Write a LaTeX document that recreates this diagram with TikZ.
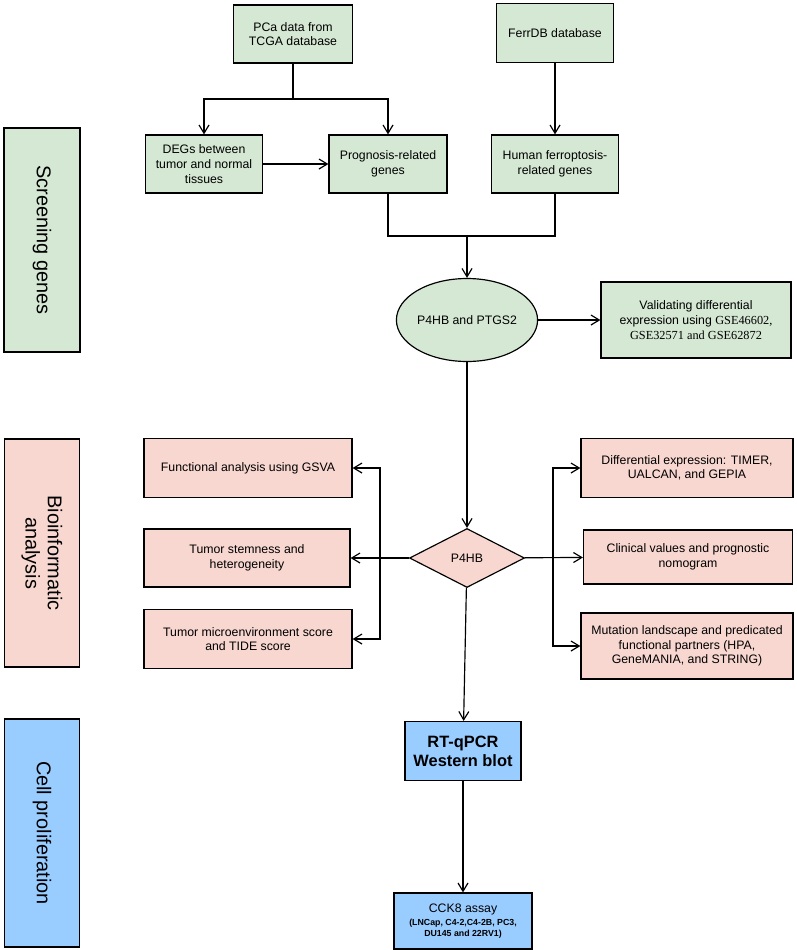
\documentclass[tikz,border=0pt]{standalone}
\usepackage{fontspec}
\setmainfont{Liberation Sans}
\newfontfamily\timesfont{Liberation Serif}
\usetikzlibrary{shapes.geometric,arrows.meta,positioning}
\definecolor{scrgreen}{HTML}{D5E8D4}
\definecolor{biopink}{HTML}{F8D7D0}
\definecolor{cellblue}{HTML}{99CCFF}
\begin{document}
\begin{tikzpicture}[x=0.3mm,y=-0.3mm]
    \tikzstyle{box} = [rectangle, draw, line width=1pt, align=center,
               inner sep=2pt, font=\fontsize{10.5}{12.5}\selectfont]
    \tikzstyle{stage} = [rectangle, draw, line width=1pt, align=center,
               font=\fontsize{17}{19}\selectfont]
    \tikzstyle{line} = [draw, line width=1pt, -{Straight Barb[length=2.5mm,width=3mm]}]

    \useasboundingbox (0,0) rectangle (797,950);

    % Stage labels
    \node[stage, fill=scrgreen, minimum width=76*0.3mm, minimum height=224*0.3mm] (scr) at (42,240) {};
    \node[rotate=-90, font=\fontsize{17}{19}\selectfont] at (scr) {Screening genes};
    \node[stage, fill=biopink, minimum width=75*0.3mm, minimum height=228*0.3mm] (bio) at (42,553) {};
    \node[rotate=-90, align=center, font=\fontsize{17}{19}\selectfont] at (bio) {Bioinformatic\\analysis};
    \node[stage, fill=cellblue, minimum width=75*0.3mm, minimum height=228*0.3mm] (cell) at (42,833) {};
    \node[rotate=-90, font=\fontsize{17}{19}\selectfont] at (cell) {Cell proliferation};

    % Screening
    \node[box, fill=scrgreen, minimum width=119*0.3mm, minimum height=58*0.3mm] (tcga) at (293,34) {PCa data from\\TCGA database};
    \node[box, fill=scrgreen, minimum width=117*0.3mm, minimum height=59*0.3mm] (ferr) at (555,33) {FerrDB database};
    \node[box, fill=scrgreen, minimum width=117*0.3mm, minimum height=58*0.3mm] (degs) at (204,164) {DEGs between\\tumor and normal\\tissues};
    \node[box, fill=scrgreen, minimum width=118*0.3mm, minimum height=58*0.3mm] (prog) at (388,164) {Prognosis-related\\genes};
    \node[box, fill=scrgreen, minimum width=127*0.3mm, minimum height=58*0.3mm] (human) at (555,164) {Human ferroptosis-\\related genes};
    \node[ellipse, draw, line width=1pt, fill=scrgreen, minimum width=122*0.3mm, minimum height=83*0.3mm,
          inner sep=0pt, font=\fontsize{10.5}{12.5}\selectfont] (genes) at (467,320) {P4HB and PTGS2};
    \node[box, fill=scrgreen, minimum width=190*0.3mm, minimum height=76*0.3mm] (valid) at (696,320)
          {Validating differential\\expression using {\timesfont GSE46602,}\\{\timesfont GSE32571 and GSE62872}};

    % Bioinformatic
    \node[diamond, draw, line width=1pt, fill=biopink, aspect=2, minimum width=115*0.3mm, minimum height=59*0.3mm,
          inner sep=0pt, font=\fontsize{10.5}{12.5}\selectfont] (p4hb) at (467,558) {P4HB};
    \node[box, fill=biopink, minimum width=208*0.3mm, minimum height=59*0.3mm] (gsva) at (248,468) {Functional analysis using GSVA};
    \node[box, fill=biopink, minimum width=206*0.3mm, minimum height=58*0.3mm] (stem) at (247,558) {Tumor stemness and\\heterogeneity};
    \node[box, fill=biopink, minimum width=208*0.3mm, minimum height=59*0.3mm] (tme) at (248,639) {Tumor microenvironment score\\and TIDE score};
    \node[box, fill=biopink, minimum width=212*0.3mm, minimum height=59*0.3mm] (diff) at (687,468) {Differential expression: TIMER,\\UALCAN, and GEPIA};
    \node[box, fill=biopink, minimum width=209*0.3mm, minimum height=54*0.3mm] (clin) at (688,557) {Clinical values and prognostic\\nomogram};
    \node[box, fill=biopink, minimum width=212*0.3mm, minimum height=66*0.3mm] (mut) at (687,646) {Mutation landscape and predicated\\functional partners (HPA,\\GeneMANIA, and STRING)};

    % Cell proliferation
    \node[box, fill=cellblue, minimum width=116*0.3mm, minimum height=59*0.3mm, font=\bfseries\fontsize{14}{16}\selectfont] (wb) at (463,751) {RT-qPCR\\Western blot};
    \node[box, fill=cellblue, minimum width=138*0.3mm, minimum height=56*0.3mm] (cck) at (463,921)
          {CCK8 assay\\[-1pt]{\bfseries\fontsize{7.5}{9}\selectfont (LNCap, C4-2,C4-2B, PC3,}\\[-3pt]{\bfseries\fontsize{7.5}{9}\selectfont DU145 and 22RV1)}};

    % Connectors
    \coordinate (split) at (tcga.south |- 0,99);
    \coordinate (merge) at (genes.north |- 0,236);
    \draw[line width=1pt] (tcga.south) -- (split);
    \path[line] (split) -| (degs.north);
    \path[line] (split) -| (prog.north);
    \path[line] (ferr) -- (human);
    \path[line] (degs) -- (prog);
    \draw[line width=1pt] (prog.south) |- (merge) -| (human.south);
    \path[line] (merge) -- (genes.north);
    \path[line] (genes) -- (valid);
    \path[line] (genes) -- (p4hb);

    \coordinate (lj) at (380,558);
    \coordinate (rj) at (553,558);
    \path[line] (p4hb) -- (stem);
    \path[line] (lj) |- (gsva.east);
    \path[line] (lj) |- (tme.east);
    \path[line] (p4hb) -- (clin);
    \path[line] (rj) |- (diff.west);
    \path[line] (rj) |- (mut.west);

    \path[line] (p4hb) -- (wb);
    \path[line] (wb) -- (cck);
\end{tikzpicture}
\end{document}
